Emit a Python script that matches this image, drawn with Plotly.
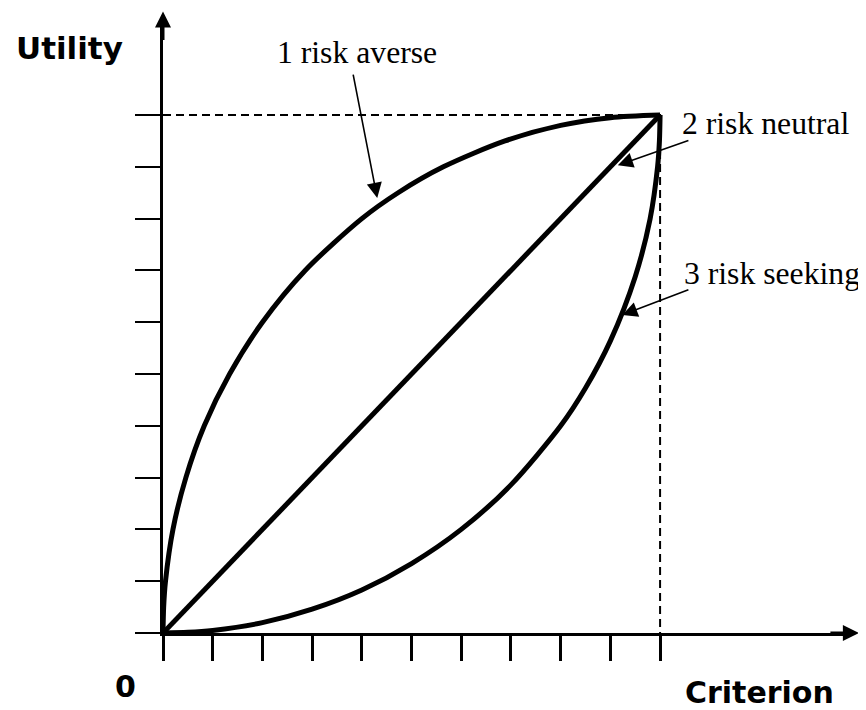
import plotly.graph_objects as go

# ---- data ----
criterion_ticks = [0, 1, 2, 3, 4, 5, 6, 7, 8, 9, 10]
utility_ticks = [0, 1, 2, 3, 4, 5, 6, 7, 8, 9, 10]

averse_x = [0, 0.013, 0.05, 0.20, 0.46, 0.83, 1.34, 2.00, 2.86, 4.00, 4.73, 5.64, 6.88, 8.00, 9.00, 10]
averse_y = [0, 0.50, 1.00, 2.00, 3.00, 4.00, 5.00, 6.00, 7.00, 8.00, 8.50, 9.00, 9.50, 9.80, 9.95, 10]

neutral_x = [0, 10]
neutral_y = [0, 10]

seeking_x = [0, 0.50, 1.00, 2.00, 3.00, 4.00, 5.00, 6.00, 7.00, 8.00, 8.50, 9.00, 9.50, 9.80, 9.95, 9.987, 10]
seeking_y = [0, 0.013, 0.05, 0.20, 0.46, 0.83, 1.34, 2.00, 2.86, 4.00, 4.73, 5.64, 6.88, 8.00, 9.00, 9.50, 10]

max_value = 10
x_max = 13.68          # right end of the axis line (data units)
y_max = 11.70          # top end of the axis line (data units)
axis_end_x = 14        # arrow tip on the criterion axis
axis_end_y = 12        # arrow tip on the utility axis

labels = ["1 risk averse", "2 risk neutral", "3 risk seeking"]
arrow_tips = [(4.31, 8.40), (9.15, 9.03), (9.24, 6.14)]
arrow_tails = [(3.82, 10.81), (10.60, 9.52), (10.60, 6.64)]
label_pos = [(3.90, 11.20, "center"), (10.41, 9.83, "left"), (10.44, 6.94, "left")]

# ---- figure ----
fig = go.Figure()

curve_line = dict(color="black", width=5)
fig.add_trace(go.Scatter(x=averse_x, y=averse_y, mode="lines",
                         line=dict(shape="spline", smoothing=0.8, **curve_line)))
fig.add_trace(go.Scatter(x=neutral_x, y=neutral_y, mode="lines", line=curve_line))
fig.add_trace(go.Scatter(x=seeking_x, y=seeking_y, mode="lines",
                         line=dict(shape="spline", smoothing=0.8, **curve_line)))

# dashed reference lines at the max value
fig.add_trace(go.Scatter(x=[0, max_value, max_value], y=[max_value, max_value, 0],
                         mode="lines", line=dict(color="black", width=2, dash="8px,5px")))

serif = dict(family="Liberation Serif, Times New Roman, serif", size=31.7, color="black")
heavy = dict(family="DejaVu Sans, Arial Black, sans-serif", size=30, color="black", weight="bold")
heavy_utility = dict(heavy, size=31)

annotations = []
# axis arrowheads
annotations.append(dict(x=axis_end_x / x_max, y=0, xref="paper", yref="paper",
                        ax=-30, ay=0, text="", showarrow=True, arrowhead=2,
                        arrowsize=1.07, arrowwidth=3, arrowcolor="black", standoff=0))
annotations.append(dict(x=0, y=axis_end_y / y_max, xref="paper", yref="paper",
                        ax=0, ay=30, text="", showarrow=True, arrowhead=2,
                        arrowsize=1.07, arrowwidth=3, arrowcolor="black", standoff=0))

for (tx, ty), (ax, ay) in zip(arrow_tips, arrow_tails):
    annotations.append(dict(x=tx, y=ty, ax=ax, ay=ay, xref="x", yref="y",
                            axref="x", ayref="y", text="", showarrow=True,
                            arrowhead=2, arrowsize=1.9, arrowwidth=1.6,
                            arrowcolor="black", standoff=0, startstandoff=0))
for lab, (lx, ly, anc) in zip(labels, label_pos):
    annotations.append(dict(x=lx, y=ly, xref="x", yref="y", text=lab,
                            showarrow=False, xanchor=anc, yanchor="middle", font=serif))

annotations.append(dict(x=-1.89 / x_max, y=11.29 / y_max, xref="paper", yref="paper",
                        text="Utility", showarrow=False, xanchor="center",
                        yanchor="middle", font=heavy_utility))
annotations.append(dict(x=-0.755 / x_max, y=-1.04 / y_max, xref="paper", yref="paper",
                        text="0", showarrow=False, xanchor="center",
                        yanchor="middle", font=heavy))
annotations.append(dict(x=12.01 / x_max, y=-1.15 / y_max, xref="paper", yref="paper",
                        text="Criterion", showarrow=False, xanchor="center",
                        yanchor="middle", font=heavy))

# the page body has an 8px margin; margins below compensate for it
fig.update_layout(
    width=866, height=710,
    margin=dict(l=155, r=31, t=19, b=85),
    paper_bgcolor="white", plot_bgcolor="white",
    showlegend=False,
    annotations=annotations,
    xaxis=dict(range=[0, x_max], showgrid=False, zeroline=False, showline=True,
               linecolor="black", linewidth=3, ticks="outside", ticklen=25,
               tickwidth=3, tickcolor="black", tickvals=criterion_ticks,
               showticklabels=False, fixedrange=True),
    yaxis=dict(range=[0, y_max], showgrid=False, zeroline=False, showline=True,
               linecolor="black", linewidth=3, ticks="outside", ticklen=25,
               tickwidth=2, tickcolor="black", tickvals=utility_ticks,
               showticklabels=False, fixedrange=True),
)

fig.write_html("out.html")
